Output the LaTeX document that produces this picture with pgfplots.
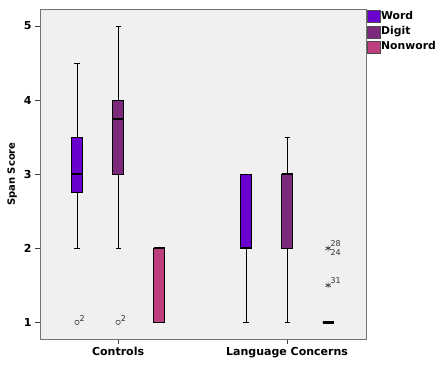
\documentclass[border=0pt]{standalone}
\usepackage{fontspec}
\setmainfont{DejaVu Sans}
\usepackage{pgfplots}
\pgfplotsset{compat=1.18}
\usepgfplotslibrary{statistics}
\definecolor{wordc}{HTML}{6A00CF}
\definecolor{digitc}{HTML}{7D2A7D}
\definecolor{nonwc}{HTML}{BE3E7E}
\definecolor{bgc}{HTML}{F0F0F0}
\begin{document}
\begin{tikzpicture}
\begin{axis}[
  name=ax,
  scale only axis, width=326pt, height=330pt,
  xmin=0.538, xmax=2.467, ymin=0.775, ymax=5.23,
  axis background/.style={fill=bgc},
  axis line style={draw=black!55, line width=0.9pt},
  xtick={1,2}, xticklabels={Controls, Language Concerns},
  ytick={1,2,3,4,5},
  tick align=outside, tick pos=left,
  major tick length=5pt,
  tick style={black!75, line width=0.8pt},
  ticklabel style={font=\fontsize{11}{13}\selectfont\bfseries},
  /pgf/number format/assume math mode=true,
  ylabel={Span Score},
  ylabel style={font=\fontsize{10}{12}\selectfont\bfseries},
  boxplot/draw direction=y,
  boxplot/every median/.style={line width=1.8pt},
  boxplot/every box/.style={draw=black, line width=0.5pt},
  boxplot/every whisker/.style={draw=black, line width=0.7pt},
  legend style={at={(1,1)}, anchor=north west, xshift=1pt, yshift=-1pt,
    draw=none, fill=none, inner sep=0pt,
    font=\fontsize{10.8}{13}\selectfont\bfseries,
    nodes={inner sep=0.6pt, text height=8pt, text depth=2.5pt},
    row sep=3pt},
  legend cell align=left,
  legend image code/.code={\draw[#1] (0pt,-6pt) rectangle (13pt,6pt);},
]
\addlegendimage{fill=wordc, draw=black!70}
\addlegendentry{Word}
\addlegendimage{fill=digitc, draw=black!70}
\addlegendentry{Digit}
\addlegendimage{fill=nonwc, draw=black!70}
\addlegendentry{Nonword}

% Controls
\addplot[forget plot, fill=wordc, boxplot prepared={lower whisker=2, lower quartile=2.75, median=3, upper quartile=3.5, upper whisker=4.5, draw position=0.757, box extend=0.065, whisker extend=0.03}] coordinates {};
\addplot[forget plot, fill=digitc, boxplot prepared={lower whisker=2, lower quartile=3, median=3.75, upper quartile=4, upper whisker=5, draw position=1.0, box extend=0.065, whisker extend=0.03}] coordinates {};
\addplot[forget plot, fill=nonwc, boxplot prepared={lower whisker=1, lower quartile=1, median=2, upper quartile=2, upper whisker=2, draw position=1.243, box extend=0.065, whisker extend=0.0}] coordinates {};
% Language Concerns
\addplot[forget plot, fill=wordc, boxplot prepared={lower whisker=1, lower quartile=2, median=2, upper quartile=3, upper whisker=3, draw position=1.757, box extend=0.065, whisker extend=0.03}] coordinates {};
\addplot[forget plot, fill=digitc, boxplot prepared={lower whisker=1, lower quartile=2, median=3, upper quartile=3, upper whisker=3.5, draw position=2.0, box extend=0.065, whisker extend=0.03}] coordinates {};
\addplot[forget plot, fill=nonwc, boxplot prepared={lower whisker=1, lower quartile=1, median=1, upper quartile=1, upper whisker=1, draw position=2.243, box extend=0.065, whisker extend=0.0, every median/.style={line width=2.4pt}}] coordinates {};

% outliers
\addplot[forget plot, only marks, mark=o, mark size=2.2pt, black!75, mark options={line width=0.6pt}] coordinates {(0.757,1) (1.0,1)};
\addplot[forget plot, only marks, mark=asterisk, mark size=3pt, black!80, mark options={line width=0.7pt}] coordinates {(2.243,2) (2.243,1.5)};

\node[anchor=south west, inner sep=0pt, font=\fontsize{8}{9}\selectfont, text=black!80] at (axis cs:0.772,1.005) {2};
\node[anchor=south west, inner sep=0pt, font=\fontsize{8}{9}\selectfont, text=black!80] at (axis cs:1.015,1.005) {2};
\node[anchor=south west, inner sep=0pt, font=\fontsize{8}{9}\selectfont, text=black!80] at (axis cs:2.256,2.02) {28};
\node[anchor=north west, inner sep=0pt, font=\fontsize{8}{9}\selectfont, text=black!80] at (axis cs:2.256,1.98) {24};
\node[anchor=south west, inner sep=0pt, font=\fontsize{8}{9}\selectfont, text=black!80] at (axis cs:2.256,1.52) {31};
\end{axis}
\path ([shift={(-40pt,-26pt)}]ax.south west) rectangle ([shift={(72pt,9pt)}]ax.north east);
\end{tikzpicture}
\end{document}
